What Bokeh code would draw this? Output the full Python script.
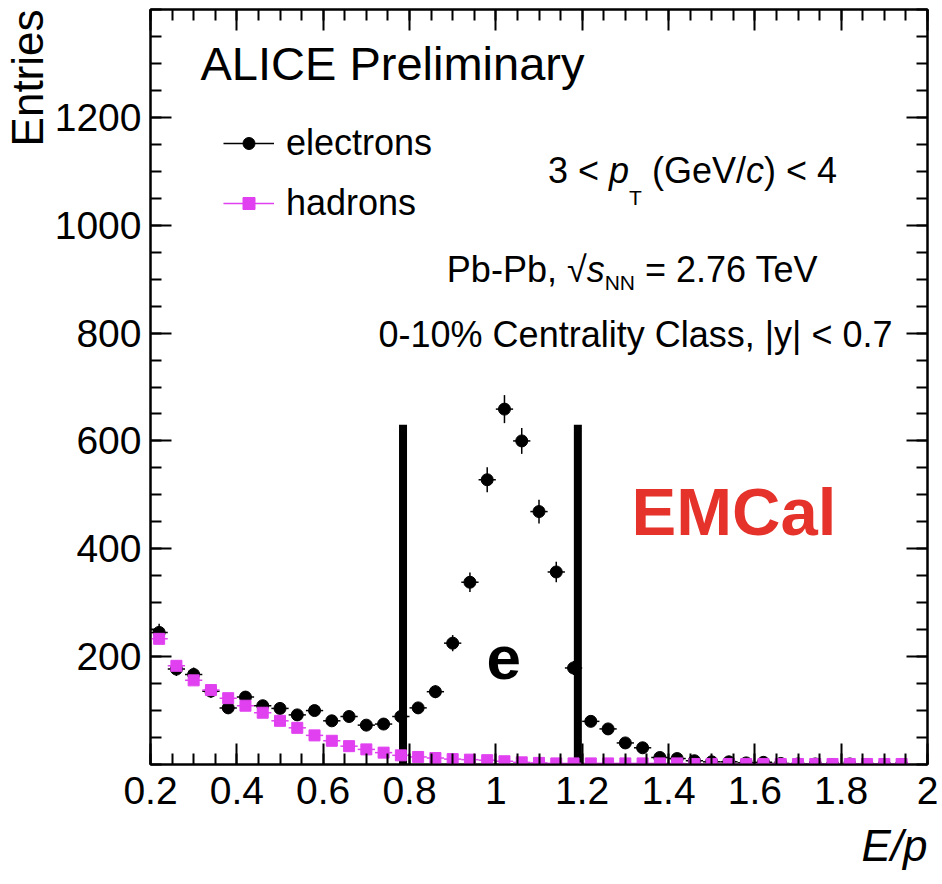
import math
from bokeh.plotting import figure
from bokeh.models import (Range1d, FixedTicker, NumeralTickFormatter, LinearAxis,
                          Label, Legend, LegendItem, ColumnDataSource, Title)
from bokeh.embed import file_html
from bokeh.resources import INLINE

# ---------------- data ----------------
ep_bins = [0.22, 0.26, 0.30, 0.34, 0.38, 0.42, 0.46, 0.50, 0.54, 0.58,
           0.62, 0.66, 0.70, 0.74, 0.78, 0.82, 0.86, 0.90, 0.94, 0.98,
           1.02, 1.06, 1.10, 1.14, 1.18, 1.22, 1.26, 1.30, 1.34, 1.38,
           1.42, 1.46, 1.50, 1.54, 1.58, 1.62, 1.66, 1.70, 1.74, 1.78,
           1.82, 1.86, 1.90, 1.94]
electrons = [245, 177, 167, 136, 105, 125, 109, 104, 92, 100,
             81, 89, 73, 75, 89, 105, 135, 225, 338, 528,
             659, 600, 469, 357, 179, 80, 66, 40, 31, 13,
             11, 7, 5, 5, 3, 4, 2, 1, 1, 0,
             1, 0, 0, 0]
electron_err = [16, 13, 13, 12, 10, 11, 10, 10, 10, 10,
                9, 9, 9, 9, 9, 10, 12, 15, 18, 23,
                26, 24, 22, 19, 13, 9, 8, 6, 6, 4,
                3, 3, 2, 2, 2, 2, 1, 1, 1, 0,
                1, 0, 0, 0]
hadrons = [233, 183, 156, 138, 123, 109, 96, 81, 68, 54,
           44, 34, 28, 22, 17, 14, 12, 10, 9, 8,
           6, 4, 3, 2, 2, 2, 2, 2, 2, 2,
           2, 1, 1, 1, 1, 1, 1, 1, 1, 1,
           1, 1, 1, 1]
bin_half_width = 0.02
cut_edges = [0.785, 1.19]
cut_height = [630, 630]
x_ticks = [0.2, 0.4, 0.6, 0.8, 1.0, 1.2, 1.4, 1.6, 1.8, 2.0]
y_ticks = [200, 400, 600, 800, 1000, 1200]

# ---------------- layout ----------------
FONT = "Liberation Sans"
W, H = 942, 884
FL, FR, FT, FB = 150, 15, 9, 120
FW, FH = W - FL - FR, H - FT - FB
XMIN, XMAX, YMIN, YMAX = 0.2, 2.0, 0, 1400


def X(px):
    return XMIN + (px - FL) * (XMAX - XMIN) / FW


def Y(py):
    return YMAX - (py - FT) * (YMAX - YMIN) / FH


p = figure(width=W, height=H, x_range=Range1d(XMIN, XMAX), y_range=Range1d(YMIN, YMAX),
           output_backend="svg", toolbar_location=None,
           x_axis_type=None, y_axis_type=None,
           min_border_left=FL, min_border_right=FR, min_border_top=FT, min_border_bottom=FB)
p.xgrid.visible = False
p.ygrid.visible = False
p.outline_line_color = "black"
p.outline_line_width = 2
p.background_fill_color = "white"
p.border_fill_color = "white"

x_minor = [round(0.2 + 0.05 * i, 3) for i in range(37)]
y_minor = [50 * i for i in range(29)]


def make_axis(ticks, minor, labels, fmt, standoff=12):
    ax = LinearAxis(ticker=FixedTicker(ticks=ticks, minor_ticks=minor),
                    formatter=NumeralTickFormatter(format=fmt))
    ax.axis_line_color = "black"
    ax.axis_line_width = 2
    ax.major_tick_in = 21
    ax.major_tick_out = 0
    ax.minor_tick_in = 11
    ax.minor_tick_out = 0
    ax.major_tick_line_width = 2
    ax.minor_tick_line_width = 2
    ax.major_tick_line_color = "black"
    ax.minor_tick_line_color = "black"
    if labels:
        ax.major_label_text_font = FONT
        ax.major_label_text_font_size = "39px"
        ax.major_label_text_color = "black"
        ax.major_label_standoff = standoff
    else:
        ax.major_label_text_color = None
        ax.major_label_standoff = 0
    return ax


p.add_layout(make_axis(x_ticks, x_minor, True, "0.[0]"), "below")
p.add_layout(make_axis(x_ticks, x_minor, False, "0.[0]"), "above")
p.add_layout(make_axis(y_ticks, y_minor, True, "0", standoff=9), "left")
p.add_layout(make_axis(y_ticks, y_minor, False, "0"), "right")

# axis titles (ROOT style: at the end of the axis)
p.add_layout(Title(text="Entries", align="right", text_font=FONT, text_font_size="44px",
                   text_font_style="normal", text_color="black", standoff=0), "left")
p.add_layout(Title(text="E/p", align="right", text_font=FONT, text_font_size="44px",
                   text_font_style="italic", text_color="black", standoff=24,
                   vertical_align="bottom"), "below")

# ---------------- glyphs ----------------
MAGENTA = "#e040f0"

src_e = ColumnDataSource(dict(
    x=ep_bins, y=electrons,
    lo=[v - e for v, e in zip(electrons, electron_err)],
    hi=[v + e for v, e in zip(electrons, electron_err)],
    xl=[b - bin_half_width for b in ep_bins],
    xr=[b + bin_half_width for b in ep_bins]))
src_h = ColumnDataSource(dict(
    x=ep_bins, y=hadrons,
    xl=[b - bin_half_width for b in ep_bins],
    xr=[b + bin_half_width for b in ep_bins]))

p.segment(x0=cut_edges, y0=[0] * len(cut_edges), x1=cut_edges, y1=cut_height,
          line_color="black", line_width=8)

e_v = p.segment(x0="x", y0="lo", x1="x", y1="hi", source=src_e, line_color="black", line_width=1.5)
e_h = p.segment(x0="xl", y0="y", x1="xr", y1="y", source=src_e, line_color="black", line_width=1.5)
e_pts = p.scatter("x", "y", source=src_e, marker="circle", size=12,
                  fill_color="black", line_color="black")

h_h = p.segment(x0="xl", y0="y", x1="xr", y1="y", source=src_h, line_color=MAGENTA, line_width=1.5)
h_pts = p.scatter("x", "y", source=src_h, marker="square", size=11,
                  fill_color=MAGENTA, line_color=MAGENTA)

legend = Legend(items=[LegendItem(label="electrons", renderers=[e_h, e_pts]),
                       LegendItem(label="hadrons", renderers=[h_h, h_pts])],
                location=(73, 540), glyph_width=51, glyph_height=30, label_standoff=12,
                padding=0, margin=0, spacing=18, border_line_color=None,
                background_fill_alpha=0, label_text_font=FONT,
                label_text_font_size="36px", label_text_color="black")
p.add_layout(legend, "center")

# ---------------- texts ----------------
WID = {' ': .278, '<': .584, '=': .584, '(': .333, ')': .333, '/': .278, ',': .278,
       '.': .278, '-': .333, '%': .889, '|': .26, 'G': .778, 'e': .556, 'V': .667,
       'c': .5, 'p': .556, 'T': .611, 'P': .667, 'b': .556, 's': .5, 'N': .722,
       'C': .722, 'n': .556, 't': .278, 'r': .333, 'a': .556, 'l': .222, 'i': .222,
       'y': .5, '\u221a': .549}
BASE_FIX = 0.37  # measured shift of the rendered alphabetic baseline, in em


def tw(text, size):
    return sum(WID.get(ch, .556) for ch in text) * size


def label(text, px, py, size, style="normal", color="black", align="left"):
    p.add_layout(Label(x=X(px), y=Y(py - BASE_FIX * size), text=text, text_font=FONT,
                       text_font_size=f"{size}px", text_font_style=style,
                       text_color=color, text_align=align, text_baseline="alphabetic"))


def rich(runs, center_px, base_py):
    total = sum(tw(t, s) for t, s, _, _ in runs)
    cur = center_px - total / 2
    for text, size, style, drop in runs:
        lead = len(text) - len(text.lstrip(" "))
        label(text.strip(" "), cur + tw(" " * lead, size), base_py + drop, size, style)
        cur += tw(text, size)


label("ALICE Preliminary", 200, 80, 47)

rich([("3 < ", 36, "normal", 0), ("p", 36, "italic", 0), ("T", 21, "normal", 22),
      (" (GeV/", 36, "normal", 0), ("c", 36, "italic", 0), (") < 4", 36, "normal", 0)],
     692, 183)
rich([("Pb-Pb, ", 36, "normal", 0), ("\u221a", 36, "normal", 0), ("s", 36, "italic", 0),
      ("NN", 21, "normal", 8), (" = 2.76 TeV", 36, "normal", 0)],
     634, 282)
rich([("0-10% Centrality Class, |y| < 0.7", 36, "normal", 0)], 635, 347)

label("e", 486, 680, 62, style="bold")
label("EMCal", 631, 536, 67, style="bold", color="#e5322a")

open("out.html", "w").write(file_html(p, INLINE))
